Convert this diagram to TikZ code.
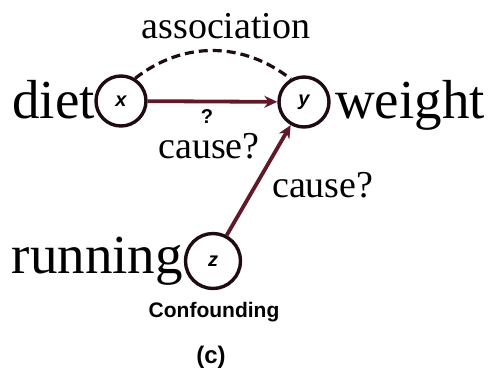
\documentclass[tikz,border=0pt]{standalone}
\usepackage{fontspec}
\setmainfont{Liberation Serif}
\newfontfamily\handfont{Liberation Sans}
\usetikzlibrary{arrows.meta}
\definecolor{ink}{RGB}{30,12,18}
\definecolor{redink}{RGB}{95,25,40}
\begin{document}
\begin{tikzpicture}[x=1pt,y=-1pt,
  var/.style={circle,draw=ink,line width=3.4pt,minimum size=50pt,inner sep=0pt,font=\handfont\bfseries\itshape\fontsize{20}{20}\selectfont},
  big/.style={font=\fontsize{55}{55}\selectfont,inner sep=0pt},
  lab/.style={font=\fontsize{38}{38}\selectfont,inner sep=0pt},
  causal/.style={draw=redink,line width=3.8pt,-{Stealth[length=13pt,width=12pt]}},
  assoc/.style={draw=ink,line width=3.2pt,dash pattern=on 9pt off 5pt}]
\useasboundingbox (0,0) rectangle (493,373);
\node[var] (x) at (121,101) {x};
\node[var] (y) at (304,102) {y};
\node[var,minimum size=55pt] (z) at (213,261) {z};
\node[big,anchor=base east] (diet) at (95,118) {diet};
\node[big,anchor=base west] (weight) at (335,118) {weight};
\node[big,anchor=base east] (running) at (183,273) {running};
\node[lab,anchor=base] (assoc) at (226,38) {association};
\node[lab,anchor=base] (c1) at (209,158) {cause?};
\node[lab,anchor=base west] (c2) at (272,197) {cause?};
\node[font=\handfont\bfseries\fontsize{20}{20}\selectfont,inner sep=0pt] (q) at (207,117) {?};
\node[font=\handfont\bfseries\fontsize{21}{21}\selectfont,inner sep=0pt] (conf) at (214,312) {Confounding};
\node[font=\handfont\bfseries\fontsize{24}{24}\selectfont,inner sep=0pt] (cap) at (211,357) {(c)};
\draw[assoc] (x.58) to[out=38,in=142] (y.120);
\draw[causal] (x) -- (y);
\draw[causal] (z.62) -- (y.240);
\end{tikzpicture}
\end{document}
